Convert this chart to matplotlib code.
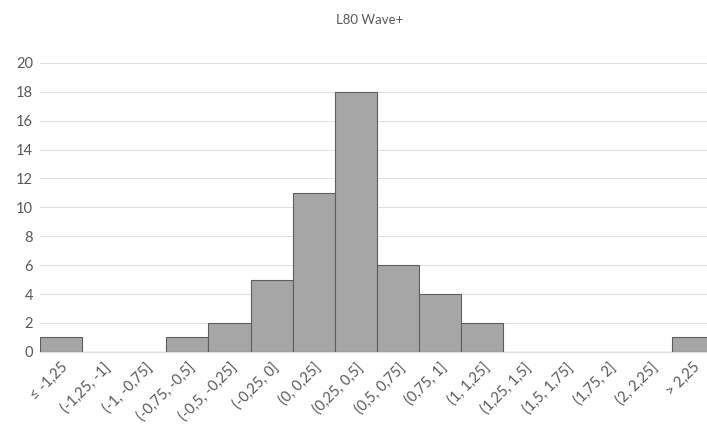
import matplotlib
matplotlib.use('Agg')
import matplotlib.pyplot as plt
import numpy as np

# Histogram bins (Excel-style labels) and counts
bins = ['≤ -1,25', '(-1,25, -1]', '(-1, -0,75]', '(-0,75, -0,5]', '(-0,5, -0,25]',
        '(-0,25, 0]', '(0, 0,25]', '(0,25, 0,5]', '(0,5, 0,75]', '(0,75, 1]',
        '(1, 1,25]', '(1,25, 1,5]', '(1,5, 1,75]', '(1,75, 2]', '(2, 2,25]', '> 2,25']
counts = [1, 0, 0, 1, 2, 5, 11, 18, 6, 4, 2, 0, 0, 0, 0, 1]

BAR = '#a6a6a6'
EDGE = '#5e5e5e'
GRID = '#e0e0e0'
TEXT = '#595959'

plt.rcParams['font.family'] = ['Lato', 'DejaVu Sans']

fig = plt.figure(figsize=(7.07, 4.25), dpi=100)
# plot area runs slightly past the right edge, as in the reference
ax = fig.add_axes([0.0566, 0.172, 0.953, 0.68])

x = np.arange(len(bins))
ax.bar(x, counts, width=1.0, color=BAR, edgecolor=EDGE, linewidth=0.8, zorder=3)

ax.set_xlim(-0.5, len(bins) - 0.5)
ax.set_ylim(0, 20)
ax.set_yticks(range(0, 21, 2))
ax.grid(axis='y', color=GRID, linewidth=0.8, zorder=0)
ax.set_xticks(x)
ax.set_xticklabels(bins, rotation=45, ha='right', rotation_mode='anchor',
                   fontsize=10.5, color=TEXT)
ax.tick_params(axis='y', length=0, labelsize=10.5, labelcolor=TEXT, pad=5)
ax.tick_params(axis='x', length=0, pad=6)
for s in ['top', 'right', 'left']:
    ax.spines[s].set_visible(False)
ax.spines['bottom'].set_color(GRID)

fig.text(0.523, 0.953, 'L80 Wave+', ha='center', va='center', fontsize=9.5, color=TEXT)

fig.savefig('out.png', dpi=100, facecolor='white')
